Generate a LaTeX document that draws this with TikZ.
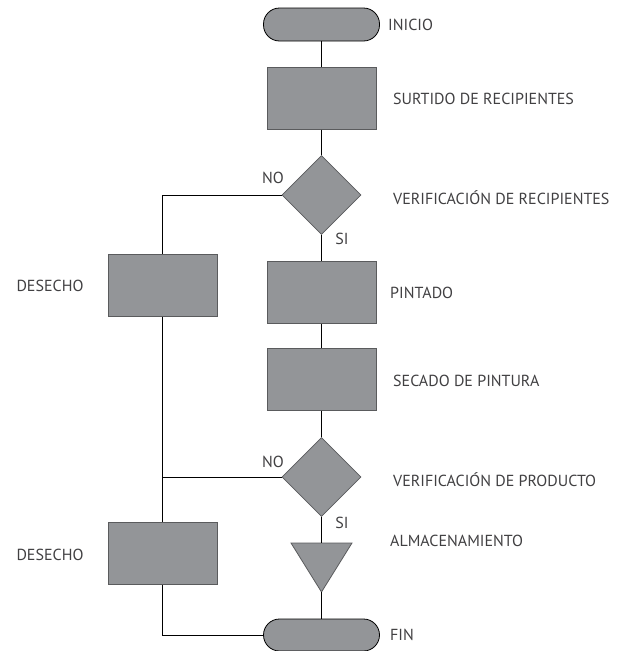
\documentclass[tikz,border=0pt]{standalone}
\usepackage{fontspec}
\setmainfont{PT Sans}
\usetikzlibrary{shapes.geometric}
\definecolor{shapefill}{HTML}{939598}
\definecolor{shapeline}{HTML}{5A5B5D}
\definecolor{txt}{HTML}{414042}
\tikzset{
  box/.style={draw=shapeline, fill=shapefill, line width=1pt, minimum width=109pt, minimum height=62pt, inner sep=0pt},
  term/.style={draw=black, fill=shapefill, line width=0.8pt, rounded corners=16pt, minimum width=116pt, minimum height=33pt, inner sep=0pt},
  decision/.style={diamond, draw=shapeline, fill=shapefill, line width=0.8pt, minimum width=79pt, minimum height=79pt, inner sep=0pt},
  lab/.style={anchor=west, text=txt, font=\fontsize{16}{18}\selectfont, inner sep=0pt},
  lbl/.style={text=txt, font=\fontsize{16}{18}\selectfont, inner sep=0pt},
  conn/.style={draw=black, line width=0.8pt},
}
\begin{document}
\begin{tikzpicture}[x=1pt,y=-1pt]
\useasboundingbox (0,0) rectangle (626,651);
% shapes
\node[term] (inicio) at (321.5,24.5) {};
\node[box] (surtido) at (321.5,98) {};
\node[decision] (ver1) at (321.5,195) {};
\node[box] (desecho1) at (162.5,285) {};
\node[box] (pintado) at (321.5,292) {};
\node[box] (secado) at (321.5,379) {};
\node[decision] (ver2) at (321.5,477) {};
\node[box] (desecho2) at (162.5,553) {};
\filldraw[draw=shapeline, fill=shapefill, line width=0.8pt] (291,543) -- (352,543) -- (321.5,592) -- cycle;
\coordinate (almT) at (321.5,543);
\coordinate (almB) at (321.5,592);
\node[term, minimum height=32pt] (fin) at (321.5,635) {};
% connectors
\draw[conn] (inicio.south) -- (surtido.north);
\draw[conn] (surtido.south) -- (ver1.north);
\draw[conn] (ver1.south) -- (pintado.north);
\draw[conn] (pintado.south) -- (secado.north);
\draw[conn] (secado.south) -- (ver2.north);
\draw[conn] (ver2.south) -- (almT);
\draw[conn] (almB) -- (fin.north);
\draw[conn] (ver1.west) -| (desecho1.north);
\draw[conn] (desecho1.south) -- (desecho2.north);
\draw[conn] (ver2.west) -- (ver2.west -| desecho1.south);
\draw[conn] (desecho2.south) |- (fin.west);
% labels
\node[lab] (tinicio) at (388,24.5) {INICIO};
\node[lab] (tsurtido) at (393,98.5) {SURTIDO DE RECIPIENTES};
\node[lab] (tver1) at (393,197.5) {VERIFICACIÓN DE RECIPIENTES};
\node[lab] (tpintado) at (390,292.5) {PINTADO};
\node[lab] (tsecado) at (393,381) {SECADO DE PINTURA};
\node[lab] (tver2) at (393,479.5) {VERIFICACIÓN DE PRODUCTO};
\node[lab] (talm) at (390,541) {ALMACENAMIENTO};
\node[lab] (tfin) at (390,635) {FIN};
\node[lbl] (tdes1) at (50,286) {DESECHO};
\node[lbl] (tdes2) at (50,555) {DESECHO};
\node[lbl] (tno1) at (273,178) {NO};
\node[lbl] (tno2) at (273,462) {NO};
\node[lbl] (tsi1) at (342,239) {SI};
\node[lbl] (tsi2) at (342,523) {SI};
\end{tikzpicture}
\end{document}
